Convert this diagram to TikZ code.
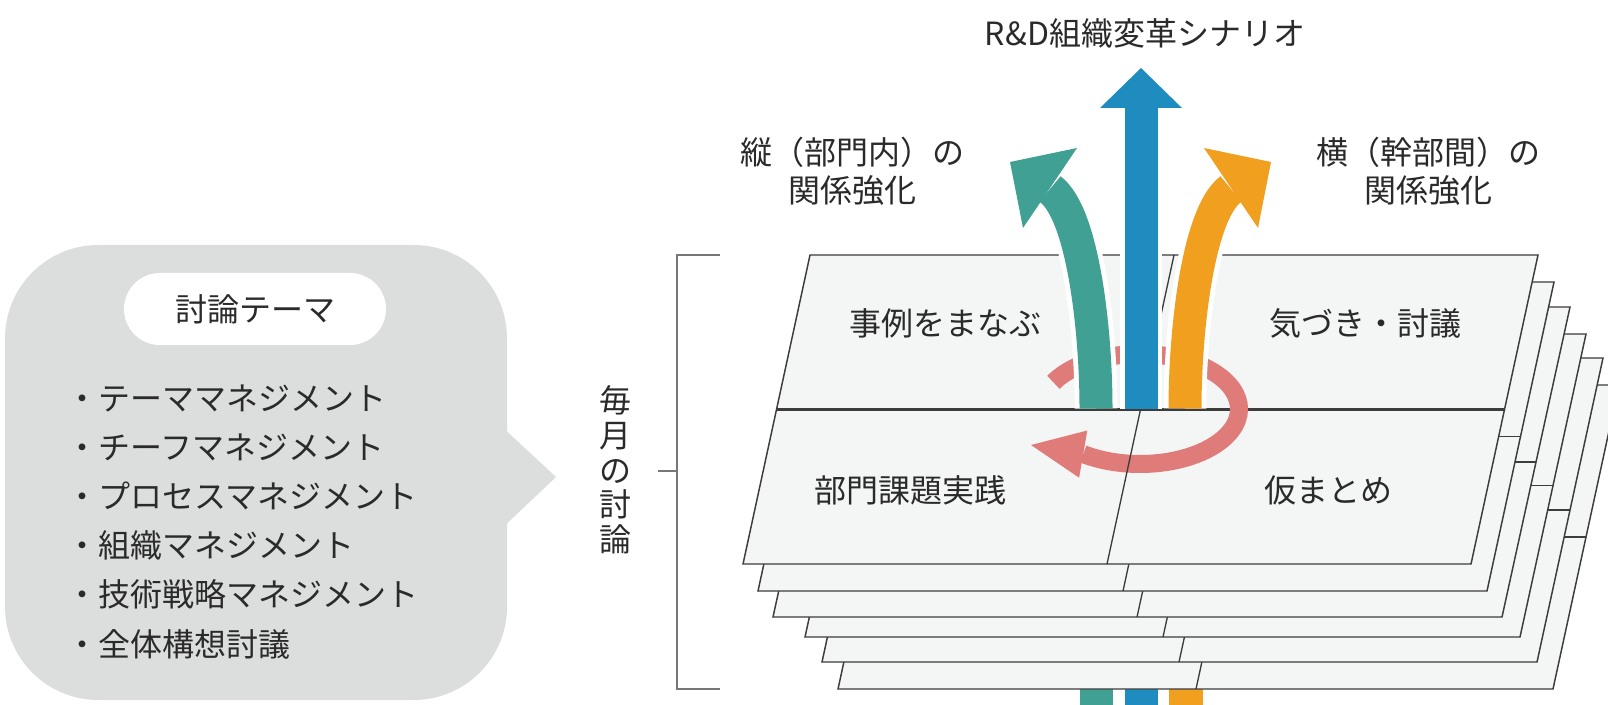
\documentclass[tikz,border=0pt]{standalone}
\usepackage{fontspec}
\setmainfont{Noto Sans CJK JP}
\usetikzlibrary{calc}
\definecolor{tealA}{HTML}{40A093}
\definecolor{blueA}{HTML}{1E8CBE}
\definecolor{orangeA}{HTML}{F0A01E}
\definecolor{pinkA}{HTML}{DF7C7A}
\definecolor{bubbleA}{HTML}{DCDDDD}
\definecolor{sheetA}{HTML}{F4F5F5}
\definecolor{edgeA}{HTML}{3C3C3C}
\definecolor{txtA}{HTML}{2A2A2A}
\definecolor{brkA}{HTML}{777777}
\tikzset{
  lbl/.style={text=txtA, font=\fontsize{24pt}{30pt}\selectfont, inner sep=0pt},
  sheetbox/.style={draw=edgeA, line width=1.1pt, fill=sheetA, line join=miter},
  thinline/.style={draw=edgeA, line width=1.0pt},
  shaftw/.style={draw=white, line width=32pt, line cap=butt},
  shaft/.style={line width=24.75pt, line cap=butt},
}
\newcommand{\mysheet}[8]{%
  \filldraw[sheetbox] (#3,#2) -- (#4,#1) -- (#6,#1) -- (#5,#2) -- cycle;
  \draw[thinline] ($(#3,#2)!0.5!(#4,#1)$) -- ($(#5,#2)!0.5!(#6,#1)$);
  \draw[thinline] (#7,#2) -- (#8,#1);
}
\begin{document}
\begin{tikzpicture}[x=0.75pt,y=-0.75pt]
\useasboundingbox (0,0) rectangle (1608,705);
\clip (0,0) rectangle (1608,705);
% speech bubble
\fill[bubbleA] (500,425) -- (556,477) -- (500,530) -- cycle;
\fill[bubbleA, rounded corners=70pt] (5,245) rectangle (507,700);
\fill[white, rounded corners=27pt] (124,273) rectangle (386,345);
\node[lbl] (theme) at (255,309) {討論テーマ};
\node[lbl, anchor=west] (i1) at (66,398) {・テーママネジメント};
\node[lbl, anchor=west] (i2) at (66,447) {・チーフマネジメント};
\node[lbl, anchor=west] (i3) at (66,496) {・プロセスマネジメント};
\node[lbl, anchor=west] (i4) at (66,545) {・組織マネジメント};
\node[lbl, anchor=west] (i5) at (66,594) {・技術戦略マネジメント};
\node[lbl, anchor=west] (i6) at (66,644) {・全体構想討議};
% bracket
\draw[brkA, line width=1.3pt] (720,255) -- (677,255) -- (677,689) -- (720,689);
\draw[brkA, line width=1.3pt] (658,471) -- (677,471);
\node[lbl, align=center, font=\fontsize{24pt}{26pt}\selectfont] (monthly) at (615,470) {毎\\月\\の\\討\\論};
% arrow stubs below the stack
\fill[tealA] (1080,689) rectangle (1113,705);
\fill[blueA] (1125,689) rectangle (1158,705);
\fill[orangeA] (1169,689) rectangle (1203,705);
% sheets, bottom to top
\mysheet{385}{689}{838}{904}{1553}{1619}{1196}{1262}
\mysheet{358}{662}{822}{888}{1537}{1603}{1179}{1245}
\mysheet{334}{637}{805}{871}{1520}{1586}{1163}{1229}
\mysheet{307}{617}{773}{841}{1502}{1570}{1137}{1205}
\mysheet{282}{591}{758}{825}{1487}{1554}{1123}{1190}
\filldraw[sheetbox] (743,564) -- (810,255) -- (1538,255) -- (1471,564) -- cycle;
\draw[draw=edgeA, line width=1.9pt] (776.5,409.5) -- (1504.5,409.5);
% cycle arrow
\coordinate (rc) at (1140,409);
\draw[pinkA, line width=13.5pt, line cap=butt] ($(rc)+(209:99 and 55)$) arc[start angle=209, end angle=485, x radius=99, y radius=55];
\fill[pinkA] (1087.3,430.5) -- (1031,445) -- (1079.1,477.7) -- cycle;
\draw[thinline] (1107,564) -- (1174,255);
% upward arrows
\draw[shaftw] (1096,408.5) .. controls (1096,330) and (1083,213) .. (1050,189);
\draw[shaft, tealA] (1096,408.5) .. controls (1096,330) and (1083,213) .. (1050,189);
\fill[tealA] (1010,162) -- (1077,148) -- (1023,228) -- cycle;
\draw[shaftw] (1185,408.5) .. controls (1185,330) and (1198,213) .. (1231,189);
\draw[shaft, orangeA] (1185,408.5) .. controls (1185,330) and (1198,213) .. (1231,189);
\fill[orangeA] (1271,162) -- (1204,148) -- (1258,228) -- cycle;
\draw[shaftw] (1141,408.5) -- (1141,106);
\draw[shaft, blueA] (1141,408.5) -- (1141,106);
\fill[blueA] (1100,108) -- (1182,108) -- (1141,68) -- cycle;
% sheet texts
\node[lbl] (s1) at (945,323) {事例をまなぶ};
\node[lbl] (s2) at (1365,323) {気づき・討議};
\node[lbl] (s3) at (910,490) {部門課題実践};
\node[lbl] (s4) at (1328,490) {仮まとめ};
% top labels
\node[lbl] (title) at (1145,33) {R\&D組織変革シナリオ};
\node[lbl] (lv1) at (852,152) {縦（部門内）の};
\node[lbl] (lv2) at (852,190) {関係強化};
\node[lbl] (lh1) at (1428,152) {横（幹部間）の};
\node[lbl] (lh2) at (1428,190) {関係強化};
\end{tikzpicture}
\end{document}
